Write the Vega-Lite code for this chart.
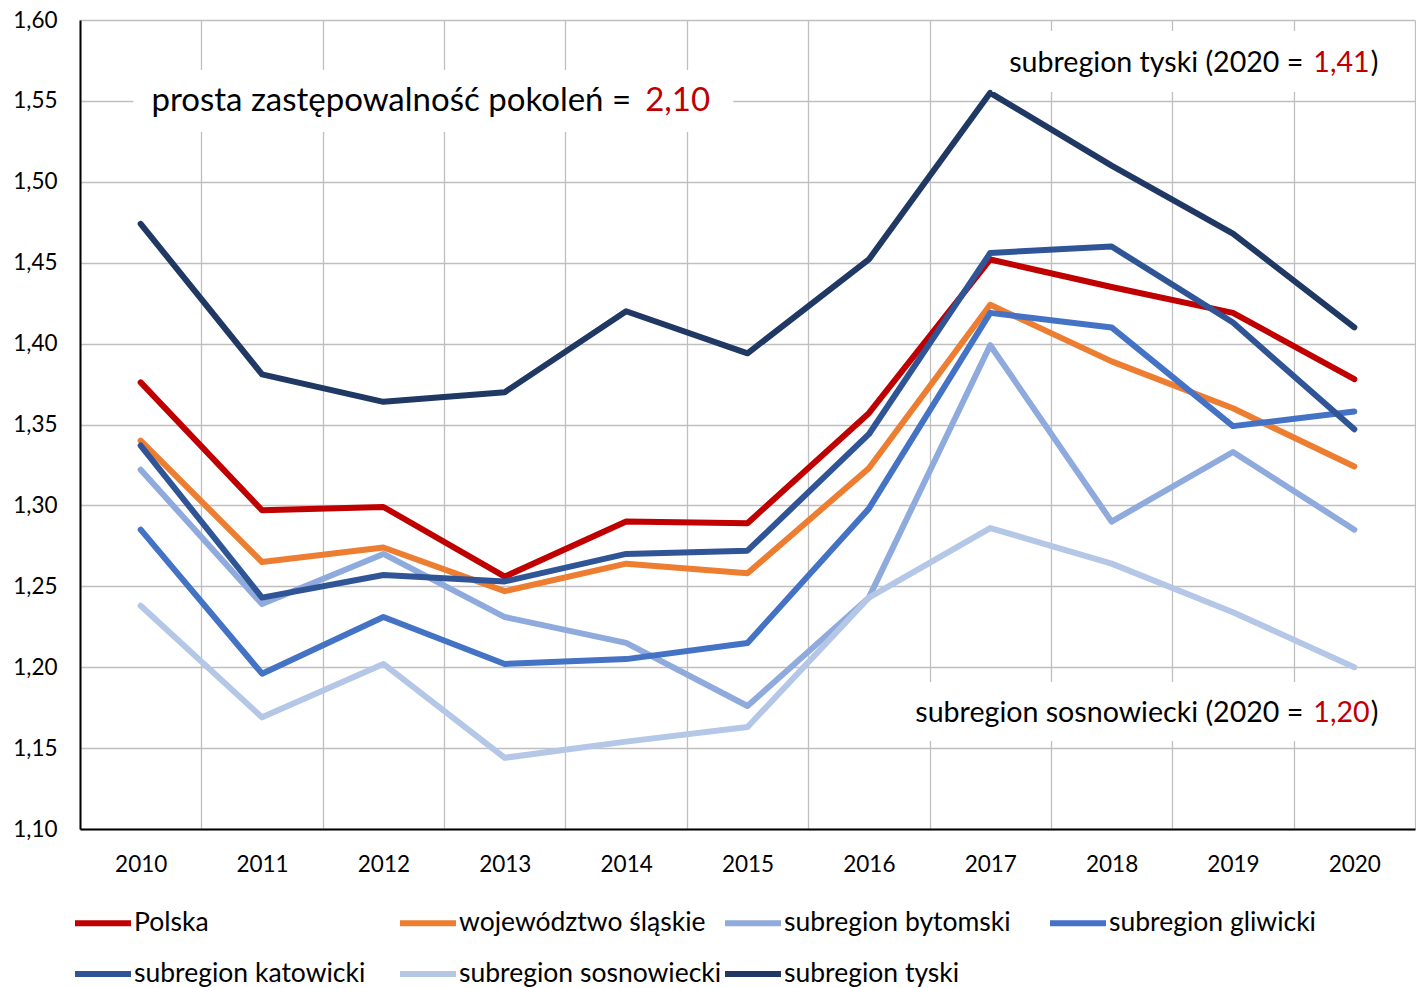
{
  "$schema": "https://vega.github.io/schema/vega-lite/v6.json",
  "width": 1335,
  "height": 809,
  "autosize": "none",
  "padding": {"left": 80, "top": 20, "right": 1, "bottom": 159},
  "background": "white",
  "config": {
    "font": "Lato",
    "view": {"stroke": null},
    "axis": {"labelColor": "black", "labelFont": "Lato", "labelFontSize": 22.5, "title": null}
  },
  "datasets": {
    "series": [
      {"year": "2010", "series": "Polska", "value": 1.376},
      {"year": "2011", "series": "Polska", "value": 1.297},
      {"year": "2012", "series": "Polska", "value": 1.299},
      {"year": "2013", "series": "Polska", "value": 1.256},
      {"year": "2014", "series": "Polska", "value": 1.290},
      {"year": "2015", "series": "Polska", "value": 1.289},
      {"year": "2016", "series": "Polska", "value": 1.357},
      {"year": "2017", "series": "Polska", "value": 1.452},
      {"year": "2018", "series": "Polska", "value": 1.435},
      {"year": "2019", "series": "Polska", "value": 1.419},
      {"year": "2020", "series": "Polska", "value": 1.378},
      {"year": "2010", "series": "województwo śląskie", "value": 1.340},
      {"year": "2011", "series": "województwo śląskie", "value": 1.265},
      {"year": "2012", "series": "województwo śląskie", "value": 1.274},
      {"year": "2013", "series": "województwo śląskie", "value": 1.247},
      {"year": "2014", "series": "województwo śląskie", "value": 1.264},
      {"year": "2015", "series": "województwo śląskie", "value": 1.258},
      {"year": "2016", "series": "województwo śląskie", "value": 1.323},
      {"year": "2017", "series": "województwo śląskie", "value": 1.424},
      {"year": "2018", "series": "województwo śląskie", "value": 1.389},
      {"year": "2019", "series": "województwo śląskie", "value": 1.360},
      {"year": "2020", "series": "województwo śląskie", "value": 1.324},
      {"year": "2010", "series": "subregion bytomski", "value": 1.322},
      {"year": "2011", "series": "subregion bytomski", "value": 1.239},
      {"year": "2012", "series": "subregion bytomski", "value": 1.270},
      {"year": "2013", "series": "subregion bytomski", "value": 1.231},
      {"year": "2014", "series": "subregion bytomski", "value": 1.215},
      {"year": "2015", "series": "subregion bytomski", "value": 1.176},
      {"year": "2016", "series": "subregion bytomski", "value": 1.243},
      {"year": "2017", "series": "subregion bytomski", "value": 1.399},
      {"year": "2018", "series": "subregion bytomski", "value": 1.290},
      {"year": "2019", "series": "subregion bytomski", "value": 1.333},
      {"year": "2020", "series": "subregion bytomski", "value": 1.285},
      {"year": "2010", "series": "subregion gliwicki", "value": 1.285},
      {"year": "2011", "series": "subregion gliwicki", "value": 1.196},
      {"year": "2012", "series": "subregion gliwicki", "value": 1.231},
      {"year": "2013", "series": "subregion gliwicki", "value": 1.202},
      {"year": "2014", "series": "subregion gliwicki", "value": 1.205},
      {"year": "2015", "series": "subregion gliwicki", "value": 1.215},
      {"year": "2016", "series": "subregion gliwicki", "value": 1.298},
      {"year": "2017", "series": "subregion gliwicki", "value": 1.419},
      {"year": "2018", "series": "subregion gliwicki", "value": 1.410},
      {"year": "2019", "series": "subregion gliwicki", "value": 1.349},
      {"year": "2020", "series": "subregion gliwicki", "value": 1.358},
      {"year": "2010", "series": "subregion katowicki", "value": 1.337},
      {"year": "2011", "series": "subregion katowicki", "value": 1.243},
      {"year": "2012", "series": "subregion katowicki", "value": 1.257},
      {"year": "2013", "series": "subregion katowicki", "value": 1.253},
      {"year": "2014", "series": "subregion katowicki", "value": 1.270},
      {"year": "2015", "series": "subregion katowicki", "value": 1.272},
      {"year": "2016", "series": "subregion katowicki", "value": 1.344},
      {"year": "2017", "series": "subregion katowicki", "value": 1.456},
      {"year": "2018", "series": "subregion katowicki", "value": 1.460},
      {"year": "2019", "series": "subregion katowicki", "value": 1.413},
      {"year": "2020", "series": "subregion katowicki", "value": 1.347},
      {"year": "2010", "series": "subregion sosnowiecki", "value": 1.238},
      {"year": "2011", "series": "subregion sosnowiecki", "value": 1.169},
      {"year": "2012", "series": "subregion sosnowiecki", "value": 1.202},
      {"year": "2013", "series": "subregion sosnowiecki", "value": 1.144},
      {"year": "2014", "series": "subregion sosnowiecki", "value": 1.154},
      {"year": "2015", "series": "subregion sosnowiecki", "value": 1.163},
      {"year": "2016", "series": "subregion sosnowiecki", "value": 1.243},
      {"year": "2017", "series": "subregion sosnowiecki", "value": 1.286},
      {"year": "2018", "series": "subregion sosnowiecki", "value": 1.264},
      {"year": "2019", "series": "subregion sosnowiecki", "value": 1.234},
      {"year": "2020", "series": "subregion sosnowiecki", "value": 1.200},
      {"year": "2010", "series": "subregion tyski", "value": 1.474},
      {"year": "2011", "series": "subregion tyski", "value": 1.381},
      {"year": "2012", "series": "subregion tyski", "value": 1.364},
      {"year": "2013", "series": "subregion tyski", "value": 1.370},
      {"year": "2014", "series": "subregion tyski", "value": 1.420},
      {"year": "2015", "series": "subregion tyski", "value": 1.394},
      {"year": "2016", "series": "subregion tyski", "value": 1.452},
      {"year": "2017", "series": "subregion tyski", "value": 1.555},
      {"year": "2018", "series": "subregion tyski", "value": 1.510},
      {"year": "2019", "series": "subregion tyski", "value": 1.468},
      {"year": "2020", "series": "subregion tyski", "value": 1.410}
    ],
    "notes": [
      {"id": "prosta", "year": "2014", "value": 1.55, "label": "prosta zastępowalność pokoleń =", "num": "2,10", "close": ""},
      {"id": "tyski", "year": "2020", "value": 1.5734, "label": "subregion tyski (2020 =", "num": "1,41", "close": ")"},
      {"id": "sosn", "year": "2020", "value": 1.1717, "label": "subregion sosnowiecki (2020 =", "num": "1,20", "close": ")"}
    ],
    "boxes": [
      {"id": "prosta", "year": "2012", "lo": 1.5308, "hi": 1.5691},
      {"id": "tyski", "year": "2019", "lo": 1.5555, "hi": 1.5932},
      {"id": "sosn", "year": "2019", "lo": 1.1544, "hi": 1.1909}
    ]
  },
  "layer": [
    {
      "data": {"name": "series"},
      "mark": {"type": "line", "strokeWidth": 6, "strokeCap": "round", "strokeJoin": "round"},
      "encoding": {
        "x": {
          "field": "year", "type": "ordinal",
          "scale": {"type": "band", "paddingInner": 0, "paddingOuter": 0},
          "axis": {
            "tickBand": "extent", "grid": true, "gridColor": "#BFBFBF", "gridWidth": 1.3,
            "ticks": false, "tickSize": 0, "domainColor": "black", "domainWidth": 2,
            "labelAngle": 0, "labelPadding": 35, "labelBaseline": "middle"
          }
        },
        "y": {
          "field": "value", "type": "quantitative",
          "scale": {"domain": [1.1, 1.6], "nice": false, "zero": false},
          "axis": {
            "values": [1.1, 1.15, 1.2, 1.25, 1.3, 1.35, 1.4, 1.45, 1.5, 1.55, 1.6],
            "labelExpr": "replace(format(datum.value, '.2f'), '.', ',')",
            "grid": true, "gridColor": "#BFBFBF", "gridWidth": 1.3,
            "ticks": false, "tickSize": 0, "domainColor": "black", "domainWidth": 2,
            "labelPadding": 23
          }
        },
        "color": {
          "field": "series", "type": "nominal",
          "scale": {
            "domain": ["Polska", "województwo śląskie", "subregion bytomski", "subregion gliwicki", "subregion katowicki", "subregion sosnowiecki", "subregion tyski"],
            "range": ["#C00000", "#ED7D31", "#8FAADC", "#4472C4", "#2F5597", "#B4C7E7", "#203864"]
          },
          "legend": {
            "title": null, "orient": "none", "legendX": -8, "legendY": 872,
            "direction": "horizontal", "columns": 4, "gridAlign": "all",
            "columnPadding": -10, "rowPadding": 6, "padding": 0,
            "symbolType": "stroke", "symbolSize": 3136, "symbolStrokeWidth": 6,
            "labelFontSize": 26.5, "labelColor": "black", "labelOffset": 0, "labelLimit": 500,
            "labelFont": "Lato"
          }
        }
      }
    },
    {
      "data": {"name": "boxes"},
      "transform": [{"filter": "datum.id === 'prosta'"}],
      "mark": {"type": "rect", "color": "white", "width": 600, "xOffset": 50},
      "encoding": {
        "x": {"field": "year", "type": "ordinal"},
        "y": {"field": "lo", "type": "quantitative"},
        "y2": {"field": "hi"}
      }
    },
    {
      "data": {"name": "boxes"},
      "transform": [{"filter": "datum.id === 'tyski'"}],
      "mark": {"type": "rect", "color": "white", "width": 407, "xOffset": -37},
      "encoding": {
        "x": {"field": "year", "type": "ordinal"},
        "y": {"field": "lo", "type": "quantitative"},
        "y2": {"field": "hi"}
      }
    },
    {
      "data": {"name": "boxes"},
      "transform": [{"filter": "datum.id === 'sosn'"}],
      "mark": {"type": "rect", "color": "white", "width": 500, "xOffset": -83},
      "encoding": {
        "x": {"field": "year", "type": "ordinal"},
        "y": {"field": "lo", "type": "quantitative"},
        "y2": {"field": "hi"}
      }
    },
    {
      "data": {"name": "notes"},
      "transform": [{"filter": "datum.id === 'prosta'"}],
      "mark": {"type": "text", "align": "right", "baseline": "middle", "fontSize": 33, "color": "black", "dx": 5},
      "encoding": {
        "x": {"field": "year", "type": "ordinal"},
        "y": {"field": "value", "type": "quantitative"},
        "text": {"field": "label"}
      }
    },
    {
      "data": {"name": "notes"},
      "transform": [{"filter": "datum.id === 'prosta'"}],
      "mark": {"type": "text", "align": "left", "baseline": "middle", "fontSize": 33, "color": "#C00000", "dx": 19},
      "encoding": {
        "x": {"field": "year", "type": "ordinal"},
        "y": {"field": "value", "type": "quantitative"},
        "text": {"field": "num"}
      }
    },
    {
      "data": {"name": "notes"},
      "transform": [{"filter": "datum.id !== 'prosta'"}],
      "mark": {"type": "text", "align": "right", "baseline": "middle", "fontSize": 28.6, "color": "black", "dx": -51},
      "encoding": {
        "x": {"field": "year", "type": "ordinal"},
        "y": {"field": "value", "type": "quantitative"},
        "text": {"field": "label"}
      }
    },
    {
      "data": {"name": "notes"},
      "transform": [{"filter": "datum.id !== 'prosta'"}],
      "mark": {"type": "text", "align": "left", "baseline": "middle", "fontSize": 28.6, "color": "#C00000", "dx": -41},
      "encoding": {
        "x": {"field": "year", "type": "ordinal"},
        "y": {"field": "value", "type": "quantitative"},
        "text": {"field": "num"}
      }
    },
    {
      "data": {"name": "notes"},
      "transform": [{"filter": "datum.id !== 'prosta'"}],
      "mark": {"type": "text", "align": "right", "baseline": "middle", "fontSize": 28.6, "color": "black", "dx": 24},
      "encoding": {
        "x": {"field": "year", "type": "ordinal"},
        "y": {"field": "value", "type": "quantitative"},
        "text": {"field": "close"}
      }
    }
  ]
}
